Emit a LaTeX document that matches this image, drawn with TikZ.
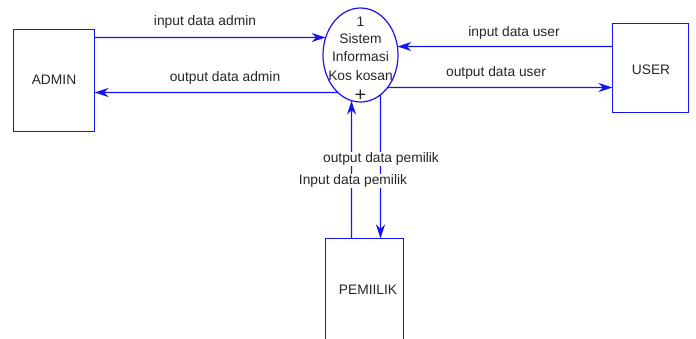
\documentclass[tikz,border=0pt]{standalone}
\usepackage{fontspec}
\setmainfont{Liberation Sans}
\usetikzlibrary{shapes.geometric,arrows.meta,intersections}
\definecolor{dfd}{RGB}{20,20,245}
\tikzset{
  ent/.style={draw=dfd, line width=1.2pt, inner sep=0pt, outer sep=0pt},
  proc/.style={ellipse, draw=dfd, line width=1.2pt, inner sep=0pt, outer sep=0pt, minimum width=75pt, minimum height=94pt},
  flow/.style={draw=dfd, line width=1.2pt, -{Stealth[length=14pt,width=9pt,inset=4.5pt]}},
  lbl/.style={font=\fontsize{13.8}{15}\selectfont, text=black!85, inner sep=1pt},
  wlbl/.style={lbl, fill=white}
}
\begin{document}
\begin{tikzpicture}[x=1pt,y=-1pt]
\useasboundingbox (0,0) rectangle (696,338);
% entities
\node[ent, minimum width=81pt, minimum height=102pt] (admin) at (54,80.5) {};
\node[lbl] (admintxt) at (54,80) {ADMIN};
\node[ent, minimum width=76pt, minimum height=89pt] (user) at (650.5,68) {};
\node[lbl] (usertxt) at (651,70) {USER};
\node[inner sep=0pt, outer sep=0pt, minimum width=78pt, minimum height=100pt] (pem) at (364.5,288.5) {};
\draw[draw=dfd, line width=1.2pt] (pem.south west) -- (pem.north west) -- (pem.north east) -- (pem.south east);
\node[lbl] (pemtxt) at (368,290) {PEMIILIK};
% process
\node[proc, name path=pe] (proc) at (360.5,55) {};
\node[lbl] (p1) at (360.5,22) {1};
\node[lbl] (p2) at (360.5,39) {Sistem};
\node[lbl] (p3) at (360.5,57) {Informasi};
\node[lbl] (p4) at (360.5,76) {Kos kosan};
\node[font=\fontsize{20}{20}\selectfont, text=black!85, inner sep=0pt] (p5) at (360.5,96) {+};
% flow end points on the entities
\coordinate (a1) at (admin.east |- 0,37.5);
\coordinate (a2) at (admin.east |- 0,92.5);
\coordinate (u1) at (user.west |- 0,46.5);
\coordinate (u2) at (user.west |- 0,87.5);
\coordinate (m1) at (pem.north -| 351.5,0);
\coordinate (m2) at (pem.north -| 380.5,0);
\path[name path=h1] (a1) -- (proc.center |- a1);
\path[name path=h2] (a2) -- (proc.center |- a2);
\path[name path=h3] (u1) -- (proc.center |- u1);
\path[name path=h4] (u2) -- (proc.center |- u2);
\path[name path=v1] (m1) -- (m1 |- proc.center);
\path[name path=v2] (m2) -- (m2 |- proc.center);
\path[name intersections={of=h1 and pe, name=i1}];
\path[name intersections={of=h2 and pe, name=i2}];
\path[name intersections={of=h3 and pe, name=i3}];
\path[name intersections={of=h4 and pe, name=i4}];
\path[name intersections={of=v1 and pe, name=i5}];
\path[name intersections={of=v2 and pe, name=i6}];
% flows
\draw[flow] (a1) -- (i1-1);
\draw[flow] (i2-1) -- (a2);
\draw[flow] (u1) -- (i3-1);
\draw[flow] (i4-1) -- (u2);
\draw[flow] (m1) -- (i5-1);
\draw[flow] (i6-1) -- (m2);
% labels
\node[lbl] (l1) at (205,22) {input data admin};
\node[lbl] (l2) at (225,78) {output data admin};
\node[lbl] (l3) at (514,33) {input data user};
\node[lbl] (l4) at (496,73) {output data user};
\node[wlbl] (l5) at (381,159) {output data pemilik};
\node[wlbl] (l6) at (353,181) {Input data pemilik};
\end{tikzpicture}
\end{document}
